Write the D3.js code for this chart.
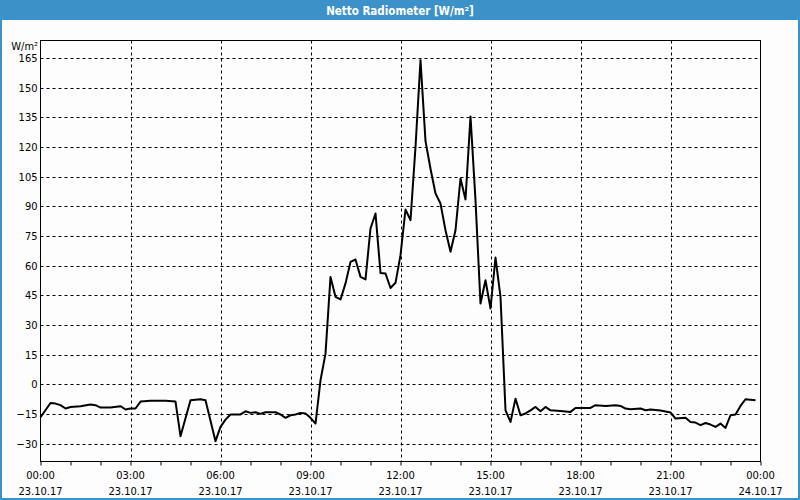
<!DOCTYPE html>
<html>
<head>
<meta charset="utf-8">
<script src="https://cdn.jsdelivr.net/npm/d3@7"></script>
<style>
  html, body { margin: 0; padding: 0; background: #fcfdfc; }
  svg { display: block; }
</style>
</head>
<body>
<svg id="chart" width="800" height="500"></svg>
<script>
const title = "Netto Radiometer [W/m²]";
const unitLabel = "W/m²";
const dayLabel = "23.10.17";
const nextDayLabel = "24.10.17";
const yTicks = [-30, -15, 0, 15, 30, 45, 60, 75, 90, 105, 120, 135, 150, 165];
const times = ["00:00","00:20","00:30","00:40","00:50","01:00","01:20","01:40","01:50","02:00",
  "02:20","02:40","02:50","03:00","03:10","03:20","03:40","04:10","04:30","04:40",
  "05:00","05:20","05:30","05:50","06:00","06:10","06:20","06:40","06:50","07:00",
  "07:10","07:20","07:30","07:50","08:00","08:10","08:20","08:30","08:40","08:50",
  "09:00","09:10","09:20","09:30","09:40","09:50","10:00","10:10","10:20","10:30",
  "10:40","10:50","11:00","11:10","11:20","11:30","11:40","11:50","12:00","12:10",
  "12:20","12:30","12:40","12:50","13:00","13:10","13:20","13:30","13:40","13:50",
  "14:00","14:10","14:20","14:30","14:40","14:50","15:00","15:10","15:20","15:30",
  "15:40","15:50","16:00","16:10","16:20","16:30","16:40","16:50","17:00","17:20",
  "17:40","17:50","18:20","18:30","18:50","19:10","19:20","19:30","19:40","20:00",
  "20:10","20:20","20:40","21:00","21:10","21:30","21:40","21:50","22:00","22:10",
  "22:20","22:30","22:40","22:50","23:00","23:10","23:20","23:30","23:40","23:50"];
const values = [-16.7,-9.5,-9.8,-10.6,-12.3,-11.5,-11.1,-10.3,-10.6,-11.8,
  -11.8,-11.1,-12.8,-12.3,-12.3,-8.8,-8.4,-8.4,-8.8,-26.3,
  -8.1,-7.6,-8.1,-28.8,-21.6,-17.9,-15.3,-15.3,-13.7,-14.5,
  -14.2,-15.0,-14.2,-14.2,-15.3,-17.0,-15.7,-15.3,-14.5,-14.8,
  -17.0,-19.9,2.0,15.5,54.3,44.2,42.9,51.0,61.9,63.1,
  54.3,53.0,78.8,86.4,56.3,56.0,48.7,51.3,65.3,88.4,
  83.0,120,164,123,109,96.5,91.4,77.9,67.0,77.9,
  104.1,93.5,135.5,93.1,40.8,52.6,38.3,64.1,44.2,-13.2,
  -19.1,-7.3,-15.7,-14.8,-13.2,-11.5,-13.7,-11.5,-13.2,-13.5,
  -14.0,-12.0,-12.0,-10.6,-11.0,-10.6,-11.0,-12.3,-12.7,-12.3,
  -13.2,-12.8,-13.3,-14.3,-17.4,-17.0,-19.1,-19.4,-20.7,-19.6,
  -20.4,-21.6,-19.9,-22.1,-15.7,-15.3,-11.0,-7.6,-7.8,-8.1];

(function () {
const W = 800, H = 500;
const pL = 40.5, pR = 760.5, pT = 40.5, pB = 461.5;
const svg = d3.select("#chart");
const font = "'DejaVu Sans Condensed', 'DejaVu Sans', sans-serif";

// window frame and title bar
svg.append("rect").attr("x", 0).attr("y", 0).attr("width", W).attr("height", H).attr("fill", "#3c91c8");
svg.append("rect").attr("x", 2).attr("y", 20).attr("width", W - 4).attr("height", H - 22).attr("fill", "#fcfdfc");
svg.append("text").attr("x", W / 2).attr("y", 14.5).attr("text-anchor", "middle")
  .attr("fill", "#ffffff").attr("font-family", font)
  .attr("font-weight", "bold").attr("font-size", "11.5px").text(title);

const parse = d3.timeParse("%Y-%m-%d %H:%M");
const t0 = parse("2017-10-23 00:00"), t1 = parse("2017-10-24 00:00");
const data = times.map((t, i) => ({ t: parse("2017-10-23 " + t), v: values[i] }));

const x = d3.scaleTime().domain([t0, t1]).range([pL, pR]);
const y = d3.scaleLinear().domain([-39.1, 173.9]).range([pB, pT]);

// grid lines
const g = svg.append("g");
g.selectAll(".hg").data(yTicks).join("line")
  .attr("x1", pL).attr("x2", pR)
  .attr("y1", d => Math.round(y(d)) + 0.5).attr("y2", d => Math.round(y(d)) + 0.5)
  .attr("stroke", "#000").attr("stroke-dasharray", "3,3").attr("stroke-width", 1);
const majorTimes = d3.timeHour.every(3).range(t0, t1).slice(1);
g.selectAll(".vg").data(majorTimes).join("line")
  .attr("x1", d => Math.round(x(d)) + 0.5).attr("x2", d => Math.round(x(d)) + 0.5)
  .attr("y1", pT).attr("y2", pB)
  .attr("stroke", "#000").attr("stroke-dasharray", "3,3").attr("stroke-width", 1);

// frame
svg.append("rect").attr("x", pL).attr("y", pT).attr("width", pR - pL).attr("height", pB - pT)
  .attr("fill", "none").attr("stroke", "#000").attr("stroke-width", 1);

// y axis labels
const yAxis = d3.axisLeft(y).tickValues(yTicks).tickSize(0).tickPadding(3);
const ya = svg.append("g").attr("transform", `translate(${pL},0)`).call(yAxis);
ya.select(".domain").remove();
ya.selectAll("text").attr("font-family", font).attr("font-size", "11px").attr("fill", "#000");
svg.append("text").attr("x", 38).attr("y", 50).attr("text-anchor", "end")
  .attr("font-family", font).attr("font-size", "11px").attr("fill", "#000").text(unitLabel);

// x axis: hourly ticks, labels every 3 hours with date
const xAxis = d3.axisBottom(x).ticks(d3.timeHour.every(1)).tickSize(4).tickFormat("");
const xa = svg.append("g").attr("transform", `translate(0,${pB})`).call(xAxis);
xa.select(".domain").remove();
xa.selectAll("line").attr("stroke", "#000");
const labelTimes = d3.timeHour.every(3).range(t0, d3.timeMinute.offset(t1, 1));
const lbl = svg.append("g").selectAll("g").data(labelTimes).join("g")
  .attr("transform", d => `translate(${x(d)},0)`);
lbl.append("text").attr("y", 479).attr("text-anchor", "middle")
  .attr("font-family", font).attr("font-size", "11px").attr("fill", "#000")
  .text(d => d3.timeFormat("%H:%M")(d));
lbl.append("text").attr("y", 495).attr("text-anchor", "middle")
  .attr("font-family", font).attr("font-size", "11px").attr("fill", "#000")
  .text(d => +d === +t1 ? nextDayLabel : dayLabel);

// data line
const line = d3.line().x(d => x(d.t)).y(d => y(d.v));
svg.append("path").datum(data).attr("d", line)
  .attr("fill", "none").attr("stroke", "#000").attr("stroke-width", 2).attr("stroke-linejoin", "round");
})();
</script>
</body>
</html>
